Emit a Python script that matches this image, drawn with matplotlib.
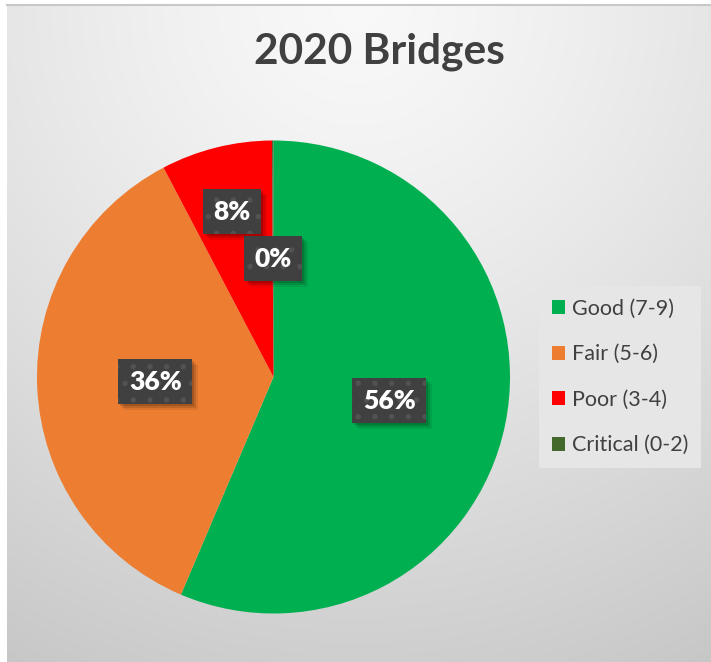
import numpy as np
import matplotlib
matplotlib.use("Agg")
import matplotlib.pyplot as plt
from matplotlib.patches import Rectangle
from matplotlib.transforms import IdentityTransform

# data
categories = ["Good (7-9)", "Fair (5-6)", "Poor (3-4)", "Critical (0-2)"]
shares = [56.4, 35.9, 7.6, 0.1]
colors = ["#00B050", "#ED7D31", "#FF0000", "#43682B"]
title = "2020 Bridges"

W, H = 711, 662
fig = plt.figure(figsize=(W / 100, H / 100), dpi=100)
fig.patch.set_facecolor("white")
plt.rcParams["hatch.linewidth"] = 1.5

# background gradient panel
bg = fig.add_axes([7 / W, 0, (W - 7) / W, (H - 5) / H])
yy, xx = np.mgrid[0:H - 5, 0:W - 7]
d = np.sqrt((xx - 350) ** 2 + (yy - 0) ** 2)
v = 0.975 - 0.20 * np.clip(d / 760, 0, 1) ** 1.3
bg.imshow(np.dstack([v, v, v]), aspect="auto", interpolation="bilinear")
bg.axis("off")
fig.add_artist(plt.Line2D([7 / W, 1], [(H - 5) / H, (H - 5) / H], color="#c8c8c8", lw=1.5))

fam = ["Lato", "DejaVu Sans"]

fig.text(379 / W, 1 - 52 / H, title, ha="center", va="center",
         fontsize=30.5, fontweight="bold", color="#404040", family=fam)

cx, cy, R = 273.5, 377, 236.5
ax = fig.add_axes([(cx - R) / W, (H - cy - R) / H, 2 * R / W, 2 * R / H])
wedges, texts, autotexts = ax.pie(
    shares, colors=colors, startangle=90, counterclock=False,
    autopct="%.0f%%", pctdistance=0.5, radius=1,
    wedgeprops=dict(linewidth=0),
    textprops=dict(color="white", fontsize=19, fontweight="heavy", family=fam))
ax.set_xlim(-1, 1)
ax.set_ylim(-1, 1)
ax.set_aspect("equal")

# move small-slice label outward (best fit)
x, y = autotexts[2].get_position()
autotexts[2].set_position((x * 1.44, y * 1.44))

for t in autotexts:
    t.set_zorder(5)
    t.set_bbox(dict(boxstyle="square,pad=0.40", facecolor="#404040", edgecolor="#525252",
                    hatch=".", linewidth=0))

# drop shadows behind label boxes
fig.canvas.draw()
for t in autotexts:
    ext = t.get_bbox_patch().get_window_extent()
    for k, a in ((6, 0.08), (4, 0.12), (2, 0.15)):
        ax.add_patch(Rectangle((ext.x0 + k, ext.y0 - k), ext.width, ext.height,
                               transform=IdentityTransform(), facecolor="black", alpha=a,
                               edgecolor="none", zorder=3, clip_on=False))

leg = fig.legend(wedges, categories, loc="upper left",
                 bbox_to_anchor=(539 / W, 1 - 286 / H),
                 frameon=True, fancybox=False, labelcolor="#404040",
                 handlelength=0.62, handleheight=0.62, handletextpad=0.3,
                 labelspacing=1.18, borderpad=0.6, borderaxespad=0,
                 prop=dict(family=fam, size=15.5))
leg.get_frame().set_facecolor("#e6e6e6")
leg.get_frame().set_edgecolor("none")
leg.get_frame().set_alpha(1)

fig.savefig("out.png", dpi=100, facecolor=fig.get_facecolor())
